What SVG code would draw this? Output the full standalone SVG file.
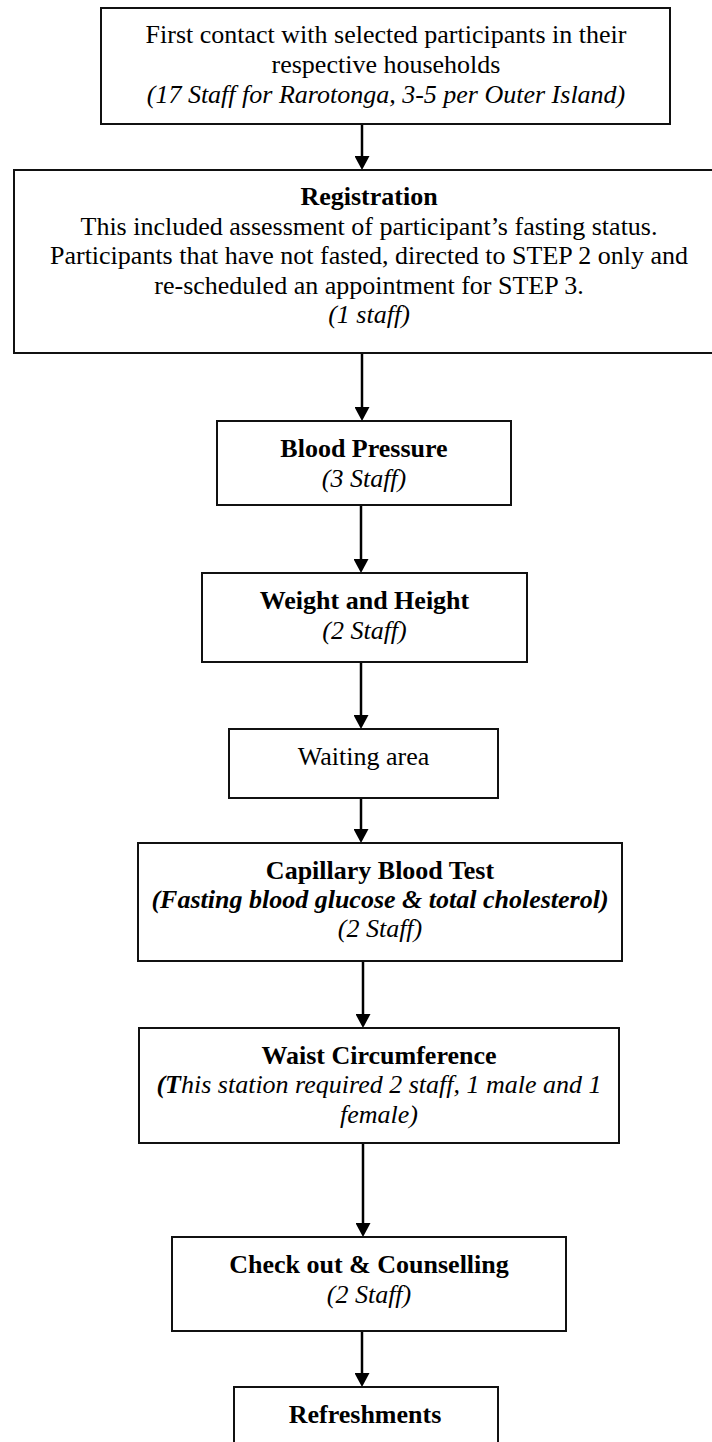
<svg xmlns="http://www.w3.org/2000/svg" width="712" height="1442" viewBox="0 0 712 1442">
<style>
.box{fill:#fff;stroke:#111;stroke-width:2}
.t{font-family:"Liberation Serif","Times New Roman",serif;font-size:26px;fill:#000;text-anchor:middle}
.b{font-weight:bold}
.i{font-style:italic}
.con{stroke:#000;stroke-width:2.5;fill:none;marker-end:url(#ah)}
</style>
<defs>
<marker id="ah" markerUnits="userSpaceOnUse" markerWidth="14" markerHeight="15" viewBox="0 0 14 15" refX="2" refY="7.5" orient="auto">
<path d="M0,0 L14,7.5 L0,15 z" fill="#000"/>
</marker>
</defs>
<rect width="712" height="1442" fill="#fff"/>
<g id="connectors">
<line class="con" x1="362" y1="124" x2="362" y2="158"/>
<line class="con" x1="362" y1="353" x2="362" y2="409"/>
<line class="con" x1="361" y1="505" x2="361" y2="561"/>
<line class="con" x1="361" y1="662" x2="361" y2="717"/>
<line class="con" x1="361" y1="798" x2="361" y2="831"/>
<line class="con" x1="363" y1="961" x2="363" y2="1016"/>
<line class="con" x1="363" y1="1143" x2="363" y2="1225"/>
<line class="con" x1="362" y1="1331" x2="362" y2="1375"/>
</g>
<g id="first-contact">
<rect class="box" x="101" y="8" width="569" height="116"/>
<text class="t" x="386" y="43">First contact with selected participants in their</text>
<text class="t" x="386" y="73">respective households</text>
<text class="t i" x="386" y="103">(17 Staff for Rarotonga, 3-5 per Outer Island)</text>
</g>
<g id="registration">
<rect class="box" x="14" y="170" width="712" height="183"/>
<text class="t b" x="369" y="205">Registration</text>
<text class="t" x="369" y="234.5">This included assessment of participant’s fasting status.</text>
<text class="t" x="369" y="264">Participants that have not fasted, directed to STEP 2 only and</text>
<text class="t" x="369" y="293.5">re-scheduled an appointment for STEP 3.</text>
<text class="t i" x="369" y="323">(1 staff)</text>
</g>
<g id="blood-pressure">
<rect class="box" x="217" y="421" width="294" height="84"/>
<text class="t b" x="364" y="457">Blood Pressure</text>
<text class="t i" x="364" y="487">(3 Staff)</text>
</g>
<g id="weight-height">
<rect class="box" x="202" y="573" width="325" height="89"/>
<text class="t b" x="364.5" y="609">Weight and Height</text>
<text class="t i" x="364.5" y="639">(2 Staff)</text>
</g>
<g id="waiting-area">
<rect class="box" x="229" y="729" width="269" height="69"/>
<text class="t" x="363.5" y="765">Waiting area</text>
</g>
<g id="capillary">
<rect class="box" x="138" y="843" width="484" height="118"/>
<text class="t b" x="380" y="879">Capillary Blood Test</text>
<text class="t b i" x="380" y="908">(Fasting blood glucose &amp; total cholesterol)</text>
<text class="t i" x="380" y="937">(2 Staff)</text>
</g>
<g id="waist">
<rect class="box" x="139" y="1028" width="480" height="115"/>
<text class="t b" x="379" y="1064">Waist Circumference</text>
<text class="t i" x="379" y="1093"><tspan class="b">(T</tspan>his station required 2 staff, 1 male and 1</text>
<text class="t i" x="379" y="1123">female)</text>
</g>
<g id="checkout">
<rect class="box" x="172" y="1237" width="394" height="94"/>
<text class="t b" x="369" y="1273">Check out &amp; Counselling</text>
<text class="t i" x="369" y="1303">(2 Staff)</text>
</g>
<g id="refreshments">
<rect class="box" x="234" y="1387" width="264" height="80"/>
<text class="t b" x="365" y="1423">Refreshments</text>
</g>
</svg>
